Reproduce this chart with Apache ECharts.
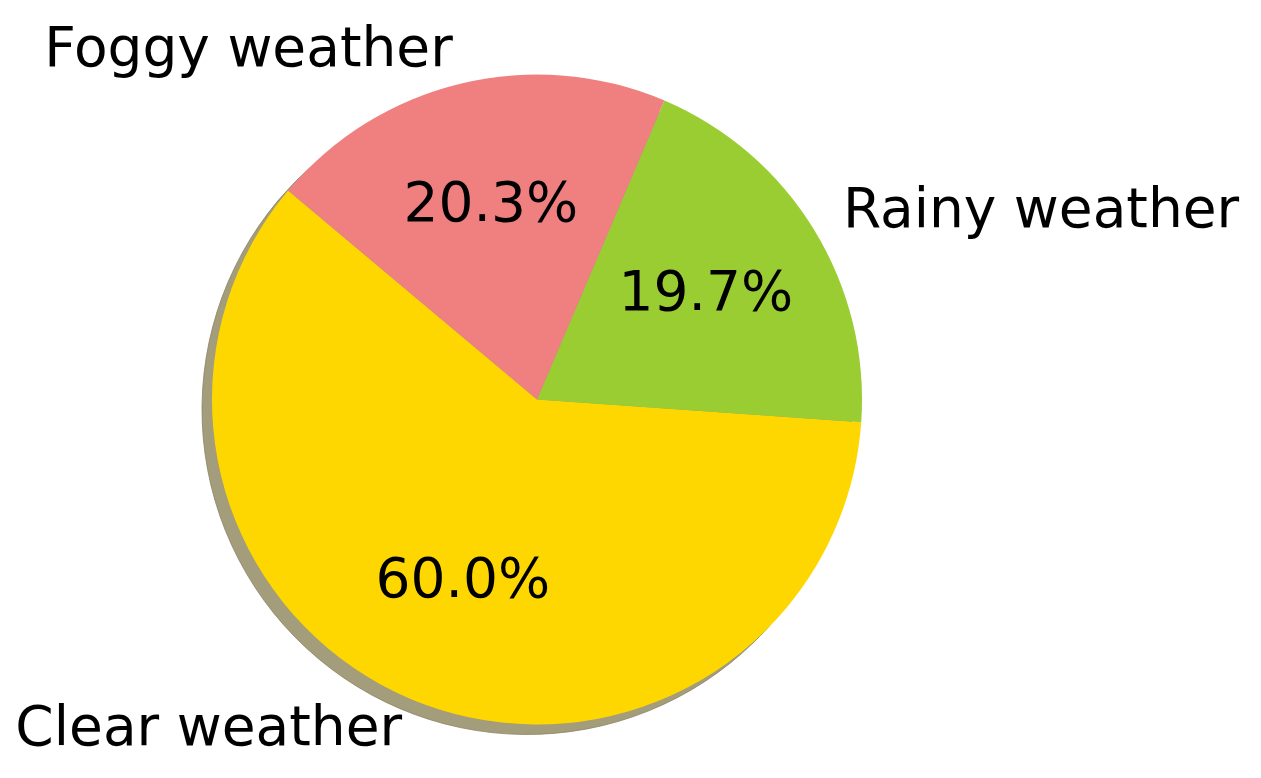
<!DOCTYPE html>
<html>
<head>
<meta charset="utf-8">
<script src="https://cdn.jsdelivr.net/npm/echarts@6/dist/echarts.min.js"></script>
<style>
  html, body { margin: 0; padding: 0; background: #fff; }
  #chart { width: 1261px; height: 778px; }
</style>
</head>
<body>
<div id="chart"></div>
<script>
// wedge order (counter-clockwise, starting at 140 deg)
const categories = ['Clear weather', 'Rainy weather', 'Foggy weather']
const shares = [60.0, 19.7, 20.3]
const colors = ['#FFD700', '#9ACD32', '#F08080']
const shadowColors = ['#A39D7B', '#969E87', '#A49393']

const cx = 537
const cy = 399.5
const r = 325
const font = 'DejaVu Sans'

const myChart = echarts.init(document.getElementById('chart'))

const common = {
  type: 'pie',
  startAngle: 140,
  clockwise: false,
  silent: true,
  avoidLabelOverlap: false,
  animation: false
}

const option = {
  backgroundColor: '#fff',
  series: [
    // shadow copy, shifted left/down
    Object.assign({}, common, {
      center: [cx - 10, cy + 10],
      radius: r,
      z: 1,
      label: { show: false },
      labelLine: { show: false },
      data: shares.map((v, i) => ({
        value: v,
        name: categories[i],
        itemStyle: { color: shadowColors[i], borderColor: '#8C8462', borderWidth: 0.8 }
      }))
    }),
    // main pie with outer category labels at 1.1 r
    Object.assign({}, common, {
      center: [cx, cy],
      radius: r,
      z: 2,
      label: {
        show: true,
        position: 'outside',
        formatter: '{b}',
        color: '#000',
        fontFamily: font,
        fontSize: 55,
        distanceToLabelLine: 1
      },
      labelLine: { show: false, length: r * 0.1, length2: 0 },
      data: shares.map((v, i) => ({
        value: v,
        name: categories[i],
        itemStyle: { color: colors[i] }
      }))
    }),
    // transparent ring only used to place percentages at 0.6 r
    Object.assign({}, common, {
      center: [cx, cy],
      radius: r * 1.2,
      z: 3,
      itemStyle: { color: 'rgba(0,0,0,0)' },
      label: {
        show: true,
        position: 'inside',
        formatter: p => p.value.toFixed(1) + '%',
        color: '#000',
        fontFamily: font,
        fontSize: 55
      },
      labelLine: { show: false },
      data: shares.map((v, i) => ({ value: v, name: categories[i] }))
    })
  ]
}

myChart.setOption(option)
</script>
</body>
</html>
